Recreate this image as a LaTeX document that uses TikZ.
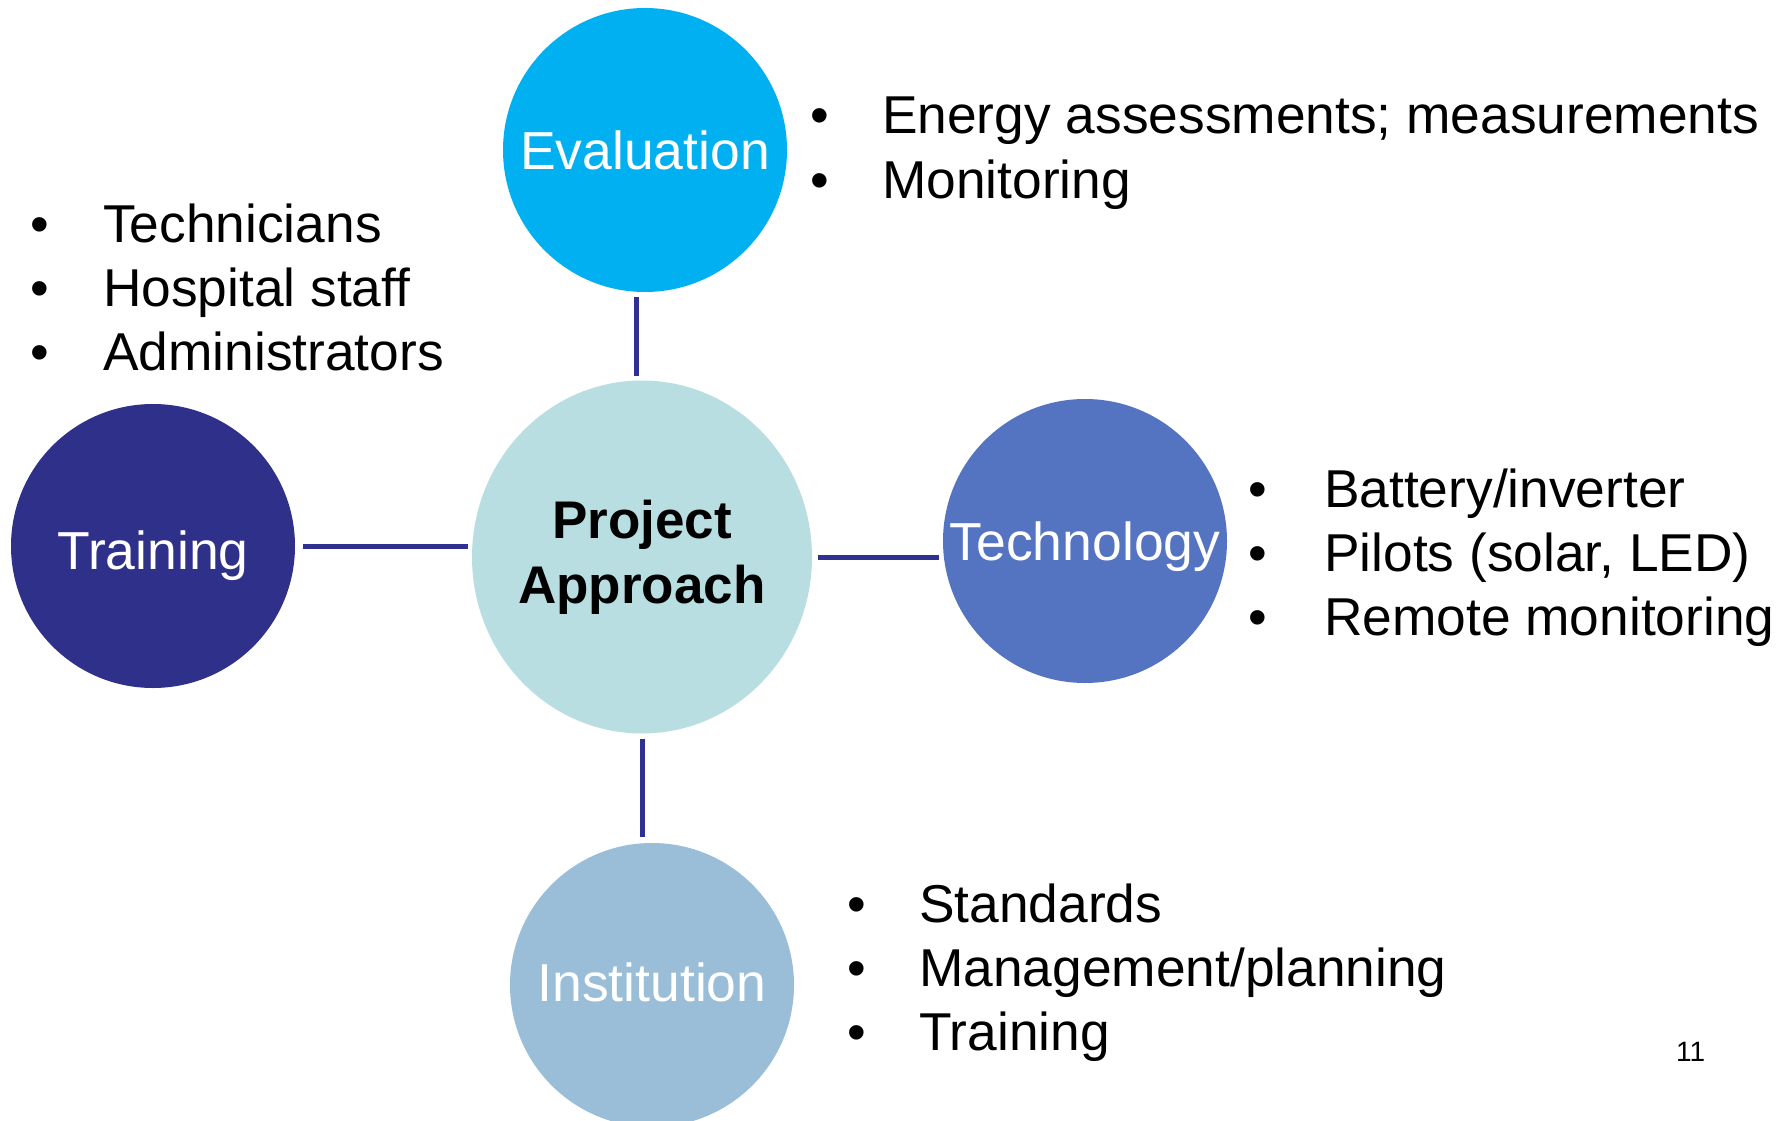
\documentclass[tikz,border=0pt]{standalone}
\usepackage{fontspec}
\setmainfont{Liberation Sans}
\usetikzlibrary{shapes.geometric,calc}

\definecolor{evalblue}{RGB}{0,176,240}
\definecolor{trainnavy}{RGB}{46,48,137}
\definecolor{techblue}{RGB}{84,115,193}
\definecolor{coreteal}{RGB}{184,222,226}
\definecolor{instblue}{RGB}{154,190,216}
\definecolor{linknavy}{RGB}{46,49,146}

\begin{document}
\begin{tikzpicture}[x=1pt,y=-1pt,
  hub/.style={circle,minimum size=284pt,inner sep=0pt,outer sep=0pt,
    text=white,font=\fontsize{53.5}{64}\selectfont,text depth=0pt},
  link/.style={draw=linknavy,line width=5pt},
  item/.style={anchor=base west,inner sep=0pt,font=\fontsize{53.3}{64}\selectfont},
]
\useasboundingbox (0,0) rectangle (1788,1121);

% central topic and the four themes around it
\node[ellipse,fill=coreteal,minimum width=340pt,minimum height=353pt,
  inner sep=0pt,outer sep=0pt] (core) at (642,557) {};
\node[align=center,inner sep=0pt,font=\bfseries\fontsize{53}{65}\selectfont]
  (corelabel) at (core.center) {Project\\Approach};
\node[hub,fill=evalblue]  (eval)  at (645,150) {Evaluation};
\node[hub,fill=trainnavy,text height=46pt] (train) at (153,546) {Training};
\node[hub,fill=techblue]  (tech)  at (1085,541) {Technology};
\node[hub,fill=instblue,text height=32pt]  (inst)  at (652,985) {Institution};

% connectors
\draw[link] ($(eval.south)+(-9,5)$) -- ($(core.north)+(-6,-5)$);
\draw[link] ($(train.east)+(8,0)$) -- ($(train.east -| core.west)+(-4,0)$);
\draw[link] ($(core.east)+(6,0)$) -- ($(core.east -| tech.west)+(-4,0)$);
\draw[link] ($(core.south)+(0,5)$) -- ($(core.south |- inst.north)+(0,-6)$);

% bullet lists
\foreach \txt [count=\i from 0] in {{Energy assessments; measurements},Monitoring}
  \node[item] (evalitem\i) at (810,{134+64*\i}) {\makebox[72pt][l]{\textbullet}\txt};
\foreach \txt [count=\i from 0] in {Technicians,Hospital staff,Administrators}
  \node[item] (trainitem\i) at (30,{242+64*\i}) {\makebox[73pt][l]{\textbullet}\txt};
\foreach \txt [count=\i from 0] in {Battery/inverter,{Pilots (solar, LED)},Remote monitoring}
  \node[item] (techitem\i) at (1248,{507+64*\i}) {\makebox[76pt][l]{\textbullet}\txt};
\foreach \txt [count=\i from 0] in {Standards,Management/planning,Training}
  \node[item] (institem\i) at (847,{922+64*\i}) {\makebox[72pt][l]{\textbullet}\txt};

% page number
\node[anchor=base west,inner sep=0pt,font=\fontsize{28}{34}\selectfont] (pagenum) at (1676,1061) {11};
\end{tikzpicture}
\end{document}
